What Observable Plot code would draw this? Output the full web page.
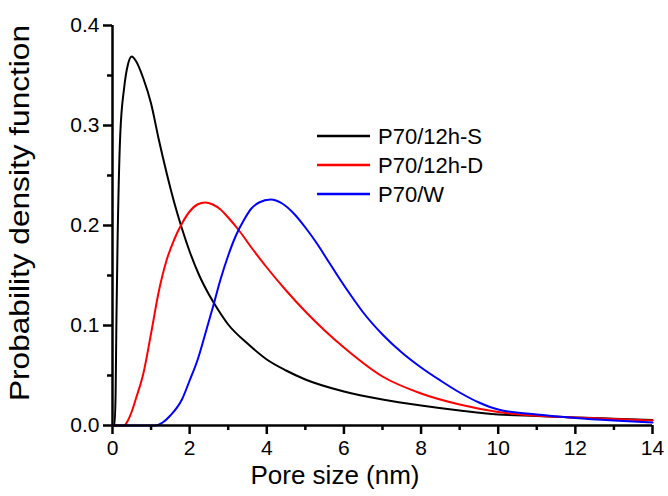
<!DOCTYPE html>
<html>
<head>
<meta charset="utf-8">
<script src="https://cdn.jsdelivr.net/npm/d3@7"></script>
<script src="https://cdn.jsdelivr.net/npm/@observablehq/plot@0.6"></script>
<style>
  html, body { margin: 0; padding: 0; background: #fff; }
  #chart { width: 668px; height: 496px; }
</style>
</head>
<body>
<div id="chart"></div>
<script>
// Series names and colours
const seriesNames = ["P70/12h-S", "P70/12h-D", "P70/W"];
const seriesColors = ["#000000", "#ff0000", "#0000ff"];

// P70/12h-S (black)
const xS = [0, 0.05, 0.08, 0.1, 0.13, 0.2, 0.3, 0.4, 0.5, 0.6, 0.8, 1.0, 1.2, 1.4, 1.6, 1.8, 2.0, 2.25, 2.5, 2.75, 3.0, 3.5, 4.0, 4.5, 5.0, 6, 7, 8, 9, 10, 11, 12, 13, 14];
const yS = [0, 0, 0.03, 0.1, 0.18, 0.29, 0.337, 0.361, 0.369, 0.365, 0.347, 0.322, 0.286, 0.253, 0.223, 0.197, 0.174, 0.15, 0.131, 0.115, 0.101, 0.082, 0.066, 0.055, 0.046, 0.034, 0.026, 0.02, 0.015, 0.011, 0.0095, 0.008, 0.0068, 0.0055];

// P70/12h-D (red)
const xD = [0, 0.3, 0.4, 0.5, 0.6, 0.8, 1.0, 1.2, 1.4, 1.6, 1.8, 2.0, 2.2, 2.4, 2.6, 2.8, 3.0, 3.3, 3.6, 4.0, 4.5, 5.0, 5.5, 6.0, 7.0, 8.0, 9.0, 10, 11, 12, 13, 14];
const yD = [0, 0, 0.005, 0.014, 0.026, 0.052, 0.092, 0.134, 0.165, 0.186, 0.202, 0.214, 0.221, 0.223, 0.221, 0.216, 0.208, 0.194, 0.178, 0.158, 0.135, 0.114, 0.095, 0.078, 0.049, 0.032, 0.021, 0.0135, 0.0097, 0.008, 0.0065, 0.005];

// P70/W (blue)
const xW = [0, 1.1, 1.3, 1.5, 1.8, 2.0, 2.2, 2.4, 2.6, 2.8, 3.0, 3.2, 3.4, 3.6, 3.8, 4.1, 4.4, 4.7, 5.0, 5.3, 5.6, 5.9, 6.2, 6.5, 7.0, 7.5, 8.0, 8.5, 9.0, 9.5, 10, 11, 12, 13, 14];
const yW = [0, 0, 0.003, 0.01, 0.026, 0.045, 0.065, 0.091, 0.118, 0.146, 0.17, 0.19, 0.205, 0.217, 0.223, 0.226, 0.222, 0.212, 0.198, 0.182, 0.164, 0.146, 0.129, 0.113, 0.091, 0.073, 0.058, 0.045, 0.033, 0.023, 0.016, 0.011, 0.0075, 0.005, 0.003];

// Tick values
const xMajor = [0, 2, 4, 6, 8, 10, 12, 14];
const xMinor = [1, 3, 5, 7, 9, 11, 13];
const yMajor = [0, 0.1, 0.2, 0.3, 0.4];
const yMinor = [0.05, 0.15, 0.25, 0.35];

const xLabel = "Pore size (nm)";
const yLabel = "Probability density function";

const rows = [];
[[xS, yS], [xD, yD], [xW, yW]].forEach(([xs, ys], i) => {
  xs.forEach((x, j) => rows.push({series: seriesNames[i], x, y: ys[j]}));
});

const font = "'Liberation Sans', Arial, sans-serif";
const W = 668, H = 496, mL = 112, mR = 16, mT = 25, mB = 71;
const frameW = W - mL - mR, frameH = H - mT - mB;

const chart = Plot.plot({
  width: W,
  height: H,
  marginLeft: mL,
  marginRight: mR,
  marginTop: mT,
  marginBottom: mB,
  style: {fontFamily: font, color: "#000", background: "#fff", overflow: "visible"},
  x: {domain: [0, 14]},
  y: {domain: [0, 0.4]},
  color: {domain: seriesNames, range: seriesColors},
  marks: [
    // tick labels
    Plot.axisX({ticks: xMajor, tickSize: 0, tickPadding: 15, fontSize: 21, label: null, tickFormat: d => String(d)}),
    Plot.axisY({ticks: yMajor, tickSize: 0, tickPadding: 13, fontSize: 21, label: null, tickFormat: d3.format(".1f")}),
    // tick marks (outward)
    Plot.ruleX(xMajor, {x: d => d, insetTop: frameH, insetBottom: -9, strokeWidth: 2.5}),
    Plot.ruleX(xMinor, {x: d => d, insetTop: frameH, insetBottom: -5, strokeWidth: 2.5}),
    Plot.ruleY(yMajor, {y: d => d, insetLeft: -9, insetRight: frameW, strokeWidth: 2.5}),
    Plot.ruleY(yMinor, {y: d => d, insetLeft: -5, insetRight: frameW, strokeWidth: 2.5}),
    // curves
    Plot.line(rows, {x: "x", y: "y", z: "series", stroke: "series", strokeWidth: 2, curve: "monotone-x"}),
    // axis lines
    Plot.ruleX([0], {strokeWidth: 2.5}),
    Plot.ruleY([0], {strokeWidth: 2.5})
  ]
});

const svg = d3.select(chart);

// Axis titles
svg.append("text")
  .attr("x", 335).attr("y", 484)
  .attr("text-anchor", "middle")
  .attr("font-family", font).attr("font-size", 26).attr("fill", "#000")
  .text(xLabel);

svg.append("text")
  .attr("transform", "translate(29,213) rotate(-90)")
  .attr("text-anchor", "middle")
  .attr("font-family", font).attr("font-size", 27).attr("fill", "#000")
  .attr("textLength", 376).attr("lengthAdjust", "spacingAndGlyphs")
  .text(yLabel);

// Legend
const lg = svg.append("g");
seriesNames.forEach((name, i) => {
  const y = 136 + i * 29;
  lg.append("line")
    .attr("x1", 317).attr("x2", 370).attr("y1", y).attr("y2", y)
    .attr("stroke", seriesColors[i]).attr("stroke-width", 2.5);
  lg.append("text")
    .attr("x", 378).attr("y", y).attr("dy", "0.36em")
    .attr("text-anchor", "start")
    .attr("font-family", font).attr("font-size", 22).attr("fill", "#000")
    .text(name);
});

document.getElementById("chart").appendChild(chart);
</script>
</body>
</html>
